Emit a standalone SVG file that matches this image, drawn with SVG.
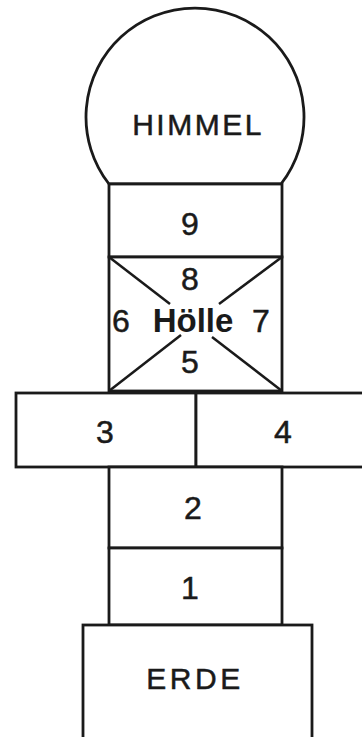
<svg xmlns="http://www.w3.org/2000/svg" width="362" height="737" viewBox="0 0 362 737">
<style>
.s{fill:#fff;stroke:#1a1a1a;stroke-width:2.8}
.l{fill:none;stroke:#1a1a1a;stroke-width:2.5}
.t{font-family:"Liberation Sans",Arial,sans-serif;font-size:32px;fill:#1a1a1a;stroke:#1a1a1a;stroke-width:0.5;text-anchor:middle}
.w{font-size:30px;letter-spacing:2.5px}
.e{letter-spacing:3.5px}
.b{font-weight:bold;font-size:33px;stroke-width:0}
</style>
<rect width="362" height="737" fill="#fff"/>
<g id="himmel">
<path class="s" d="M109,184 A109,109 0 1 1 281,184 Z"/>
<text class="t w" x="198" y="135">HIMMEL</text>
</g>
<g id="feld9">
<rect class="s" x="109" y="184" width="173" height="73"/>
<text class="t" x="190" y="235">9</text>
</g>
<g id="hoelle">
<rect class="s" x="109" y="257" width="173" height="134"/>
<g class="l">
<line x1="109" y1="257" x2="170" y2="304"/>
<line x1="282" y1="257" x2="219" y2="304"/>
<line x1="109" y1="391" x2="181" y2="335"/>
<line x1="282" y1="391" x2="212" y2="337"/>
</g>
<text class="t" x="190" y="290">8</text>
<text class="t" x="121" y="332">6</text>
<text class="t" x="261" y="332">7</text>
<text class="t b" x="193" y="332">Hölle</text>
<text class="t" x="190" y="373">5</text>
</g>
<g id="feld3">
<rect class="s" x="16" y="393" width="180" height="74"/>
<text class="t" x="105" y="443">3</text>
</g>
<g id="feld4">
<rect class="s" x="196" y="393" width="180" height="74"/>
<text class="t" x="283" y="443">4</text>
</g>
<g id="feld2">
<rect class="s" x="109" y="467" width="173" height="81"/>
<text class="t" x="193" y="519">2</text>
</g>
<g id="feld1">
<rect class="s" x="109" y="548" width="173" height="77"/>
<text class="t" x="190" y="599">1</text>
</g>
<g id="erde">
<rect class="s" x="83" y="625" width="229" height="125"/>
<text class="t w e" x="195" y="689">ERDE</text>
</g>
<g id="connectors"></g>
</svg>
